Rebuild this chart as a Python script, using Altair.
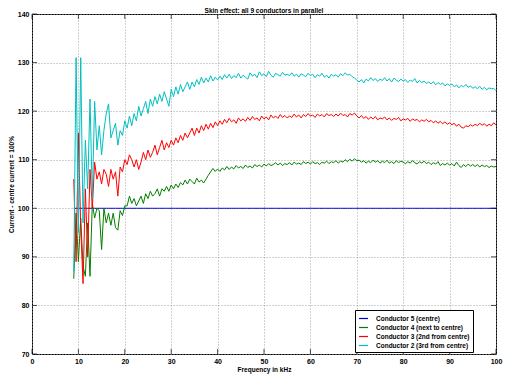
import altair as alt
import pandas as pd

FREQ_KHZ = [
    9.0, 9.5, 10.0, 10.5, 11.0, 11.5, 12.0, 12.5, 13.0, 13.5,
    14.0, 14.5, 15.0, 15.5, 16.0, 16.5, 17.0, 17.5, 18.0, 18.5,
    19.0, 19.5, 20.0, 20.5, 21.0, 21.5, 22.0, 22.5, 23.0, 23.5,
    24.0, 24.5, 25.0, 25.5, 26.0, 26.5, 27.0, 27.5, 28.0, 28.5,
    29.0, 29.5, 30.0, 30.5, 31.0, 31.5, 32.0, 32.5, 33.0, 33.5,
    34.0, 34.5, 35.0, 35.5, 36.0, 36.5, 37.0, 37.5, 38.0, 38.5,
    39.0, 39.5, 40.0, 40.5, 41.0, 41.5, 42.0, 42.5, 43.0, 43.5,
    44.0, 44.5, 45.0, 45.5, 46.0, 46.5, 47.0, 47.5, 48.0, 48.5,
    49.0, 49.5, 50.0, 50.5, 51.0, 51.5, 52.0, 52.5, 53.0, 53.5,
    54.0, 54.5, 55.0, 55.5, 56.0, 56.5, 57.0, 57.5, 58.0, 58.5,
    59.0, 59.5, 60.0, 60.5, 61.0, 61.5, 62.0, 62.5, 63.0, 63.5,
    64.0, 64.5, 65.0, 65.5, 66.0, 66.5, 67.0, 67.5, 68.0, 68.5,
    69.0, 69.5, 70.0, 70.5, 71.0, 71.5, 72.0, 72.5, 73.0, 73.5,
    74.0, 74.5, 75.0, 75.5, 76.0, 76.5, 77.0, 77.5, 78.0, 78.5,
    79.0, 79.5, 80.0, 80.5, 81.0, 81.5, 82.0, 82.5, 83.0, 83.5,
    84.0, 84.5, 85.0, 85.5, 86.0, 86.5, 87.0, 87.5, 88.0, 88.5,
    89.0, 89.5, 90.0, 90.5, 91.0, 91.5, 92.0, 92.5, 93.0, 93.5,
    94.0, 94.5, 95.0, 95.5, 96.0, 96.5, 97.0, 97.5, 98.0, 98.5,
    99.0, 99.5, 100.0,
]

COND5 = [100.0] * len(FREQ_KHZ)

COND4 = [
    85.5, 99.0, 89.0, 98.0, 88.0, 86.0, 97.0, 86.0, 101.0, 98.0,
    100.0, 99.5, 91.5, 100.0, 97.0, 99.0, 96.5, 99.0, 96.0, 95.5,
    99.5, 98.5, 100.5,
    100.5, 102.5, 101.0, 102.0, 100.5, 101.5, 102.5, 101.0, 103.0, 102.0,
    103.5, 102.5, 103.0, 104.0, 102.5, 104.0, 103.5, 104.5, 103.5, 104.8,
    104.0, 105.0, 104.3, 105.3, 104.8, 105.8, 105.0, 106.0, 105.5, 105.0,
    106.2, 105.4, 105.8, 105.2, 106.0, 106.8, 107.5, 108.2, 107.6, 108.1,
    107.6, 108.3, 107.9, 108.6, 108.0, 108.5, 108.1, 108.8, 108.3, 108.6,
    108.2, 108.9, 108.4, 108.7, 108.3, 109.0, 108.6, 108.9, 108.5, 109.1,
    108.7, 109.2, 108.8, 109.0, 109.4, 108.9, 109.3, 108.8, 109.2, 109.0,
    109.4, 108.9, 109.5, 109.1, 109.3, 109.0, 109.6, 109.2, 109.5, 109.1,
    109.6, 109.2, 109.4, 109.0, 109.5, 109.3, 109.7, 109.2, 109.6, 109.4,
    109.8, 109.3, 109.7, 109.5, 110.0, 109.6, 110.1, 109.7, 110.2, 109.8,
    109.9, 109.5, 109.8, 109.3, 109.7, 109.4, 109.9, 109.5, 109.8, 109.3,
    109.7, 109.4, 109.9, 109.3, 109.6, 109.2, 109.8, 109.4, 109.7, 109.5,
    109.2, 109.6, 109.3, 109.8, 109.4, 109.1, 109.6, 109.3, 109.7, 109.2,
    109.5, 109.0, 109.4, 109.1, 109.6, 108.8, 109.2, 108.9, 109.3, 108.9,
    109.2, 108.7, 109.5, 108.8, 108.4, 109.0, 108.6, 109.1, 108.7, 109.0,
    108.6, 109.0, 108.5, 108.9, 108.6, 108.8, 108.4, 108.7, 108.5, 108.6,
]

COND3 = [
    106.0, 89.0, 115.5, 96.0, 84.5, 104.0, 90.0, 108.0, 100.0, 109.5,
    106.0, 107.5, 105.0, 108.0, 107.0, 104.5, 108.0, 106.0, 107.5, 102.5,
    108.5, 107.5, 110.0,
    109.0, 111.0, 110.0, 108.5, 110.0, 108.0, 109.5, 111.5, 110.0, 112.0,
    110.5, 111.5, 113.0, 111.0, 112.5, 114.0, 112.0, 113.5, 112.5, 114.0,
    113.0, 114.5, 113.5, 115.0, 114.0, 115.5, 114.5, 115.5, 116.5, 115.0,
    116.5, 115.5, 117.0, 116.0, 117.3, 116.3, 117.5, 116.6, 117.8, 117.0,
    118.0, 117.3, 118.3, 117.6, 118.5, 117.8, 118.2, 117.5, 118.6, 118.0,
    118.4, 117.9, 118.7, 118.1, 118.9, 118.3, 118.6, 118.0, 119.0, 118.4,
    118.8, 118.2, 119.2, 118.6, 119.0, 118.5, 119.3, 118.7, 119.1, 118.6,
    119.0, 118.7, 119.4, 118.8, 119.2, 118.6, 119.3, 118.9, 119.5, 119.0,
    119.2, 118.7, 119.4, 119.0, 119.3, 118.8, 119.5, 119.1, 119.3, 118.9,
    119.4, 119.0, 119.6, 119.1, 119.3, 118.8, 119.5, 119.2, 119.6, 119.0,
    118.6, 119.1, 118.5, 118.9, 118.3, 118.8, 118.4, 118.9, 118.2, 118.6,
    118.4, 118.8, 118.2, 118.6, 118.1, 118.5, 118.3, 118.7, 118.0, 118.4,
    118.2, 118.5, 117.9, 118.4, 118.1, 118.3, 117.8, 118.2, 117.9, 118.3,
    117.8, 118.1, 117.6, 118.0, 117.5, 117.9, 117.4, 117.8, 117.3, 117.6,
    117.2, 117.5, 116.9, 117.3, 116.7, 116.5, 117.0, 116.8, 117.2, 116.9,
    117.3, 117.0, 117.5, 117.1, 117.4, 116.9, 117.3, 117.0, 117.6, 117.2,
]

COND2 = [
    87.0, 131.0, 95.0, 131.0, 97.0, 114.0, 104.0, 122.5, 102.0, 122.0,
    112.0, 117.0, 111.0, 116.0, 119.5, 121.5, 114.5, 116.0, 117.5, 113.0,
    116.0, 115.0, 118.0,
    116.5, 119.0, 117.0, 119.5, 118.0, 121.0, 119.0, 120.5, 122.0, 119.5,
    122.5, 121.0, 123.0, 121.5, 123.5, 122.0, 124.0, 122.5, 121.0, 124.5,
    123.0, 125.0, 123.5, 125.5, 124.0, 125.0, 126.0, 124.5, 126.0, 125.0,
    126.5, 125.5, 127.0, 125.8, 126.8, 126.0, 127.3, 126.2, 127.0, 126.4,
    127.2, 126.5, 127.5, 126.8, 127.6, 126.7, 127.3, 126.9, 127.8, 126.8,
    127.4, 127.0, 126.6, 127.9, 127.2, 127.6, 126.9, 128.1, 127.3, 127.7,
    127.1, 128.2, 127.4, 127.0, 127.8, 127.5, 127.2, 128.0, 127.4, 127.6,
    127.3, 127.9, 127.2, 127.6, 127.0, 127.7, 127.4, 127.1, 127.8, 127.3,
    127.6, 126.9, 127.5, 127.2, 127.8, 127.0, 127.4, 126.8, 127.6, 127.2,
    127.5, 127.0, 127.7, 127.3, 127.9, 127.4, 127.6, 127.1, 126.8, 126.4,
    126.0, 126.5, 125.8, 126.6, 126.2, 126.9, 126.3, 126.7, 126.1, 126.6,
    126.3, 126.9, 126.2, 126.7, 126.0, 126.8, 126.4, 126.1, 126.6, 126.2,
    126.5, 125.9, 126.4, 126.1, 126.7, 125.8, 126.3, 125.9, 126.2, 125.7,
    126.0, 125.6, 126.1, 125.4, 125.9, 125.5, 125.8, 125.2, 125.6, 125.3,
    125.6, 125.0, 125.4, 124.8, 125.3, 125.0, 125.5, 124.9, 125.2, 124.7,
    125.0, 124.6, 125.1, 124.5, 124.9, 124.4, 124.8, 124.6, 124.7, 124.2,
]

TITLE = "Skin effect: all 9 conductors in parallel"
SERIES = [
    "Conductor 5 (centre)",
    "Conductor 4 (next to centre)",
    "Conductor 3 (2nd from centre)",
    "Conductor 2 (3rd from centre)",
]
COLORS = ["#0000d0", "#008000", "#ff0000", "#00bfbf"]
X_TICKS = [0, 10, 20, 30, 40, 50, 60, 70, 80, 90, 100]
Y_TICKS = [70, 80, 90, 100, 110, 120, 130, 140]

rows = []
for name, vals in zip(SERIES, [COND5, COND4, COND3, COND2]):
    for f, v in zip(FREQ_KHZ, vals):
        rows.append({"freq": f, "value": v, "series": name})
df = pd.DataFrame(rows)

W, H = 464, 340
FONT = "Liberation Sans"

xscale = alt.Scale(domain=[0, 100], nice=False)
yscale = alt.Scale(domain=[70, 140], nice=False)

lines = alt.Chart(df).mark_line(strokeWidth=1, clip=True).encode(
    x=alt.X("freq:Q", scale=xscale,
            axis=alt.Axis(values=X_TICKS, title="Frequency in kHz", grid=True)),
    y=alt.Y("value:Q", scale=yscale,
            axis=alt.Axis(values=Y_TICKS, title="Current - centre current = 100%", grid=True)),
    color=alt.Color("series:N", scale=alt.Scale(domain=SERIES, range=COLORS),
                    sort=SERIES, legend=alt.Legend(title=None)),
)

xt_df = pd.DataFrame({"freq": X_TICKS})
yt_df = pd.DataFrame({"value": Y_TICKS})
xt_bottom = alt.Chart(xt_df).mark_tick(color="black", thickness=1, size=5).encode(
    x=alt.X("freq:Q", scale=xscale), y=alt.value(H - 2.5))
xt_top = alt.Chart(xt_df).mark_tick(color="black", thickness=1, size=5).encode(
    x=alt.X("freq:Q", scale=xscale), y=alt.value(2.5))
yt_left = alt.Chart(yt_df).mark_tick(color="black", thickness=1, size=5).encode(
    y=alt.Y("value:Q", scale=yscale), x=alt.value(2.5))
yt_right = alt.Chart(yt_df).mark_tick(color="black", thickness=1, size=5).encode(
    y=alt.Y("value:Q", scale=yscale), x=alt.value(W - 2.5))

title_mark = alt.Chart(pd.DataFrame({"t": [TITLE]})).mark_text(
    font=FONT, fontWeight="bold", fontSize=6.5, color="black",
    align="center", baseline="alphabetic",
).encode(text="t:N", x=alt.value(W / 2), y=alt.value(-1.5))

chart = alt.layer(lines, xt_bottom, xt_top, yt_left, yt_right, title_mark).properties(
    width=W, height=H,
    autosize=alt.AutoSizeParams(type="none"),
    padding={"left": 24, "top": 6, "right": 10, "bottom": 24},
).configure_view(
    stroke="black", strokeWidth=1
).configure_axis(
    domain=False, ticks=False, labelFont=FONT, labelFontWeight="bold",
    labelFontSize=7, labelColor="black", titleFont=FONT, titleFontWeight="bold",
    titleFontSize=6.5, titleColor="black", gridColor="#999999", gridDash=[1, 2],
    gridOpacity=0.9, gridWidth=1, labelPadding=3,
).configure_axisX(
    titlePadding=2, labelFlush=False,
).configure_axisY(
    titlePadding=3,
).configure_legend(
    orient="none", legendX=323, legendY=296, strokeColor="black", fillColor="white",
    padding=3, labelFont=FONT, labelFontWeight="bold", labelFontSize=6.5,
    labelColor="black", symbolType="stroke", symbolSize=81, symbolStrokeWidth=1.2,
    rowPadding=-1, labelOffset=7, cornerRadius=0, strokeWidth=1,
)

chart.save("out.html", embed_options={"renderer": "svg", "actions": False})
